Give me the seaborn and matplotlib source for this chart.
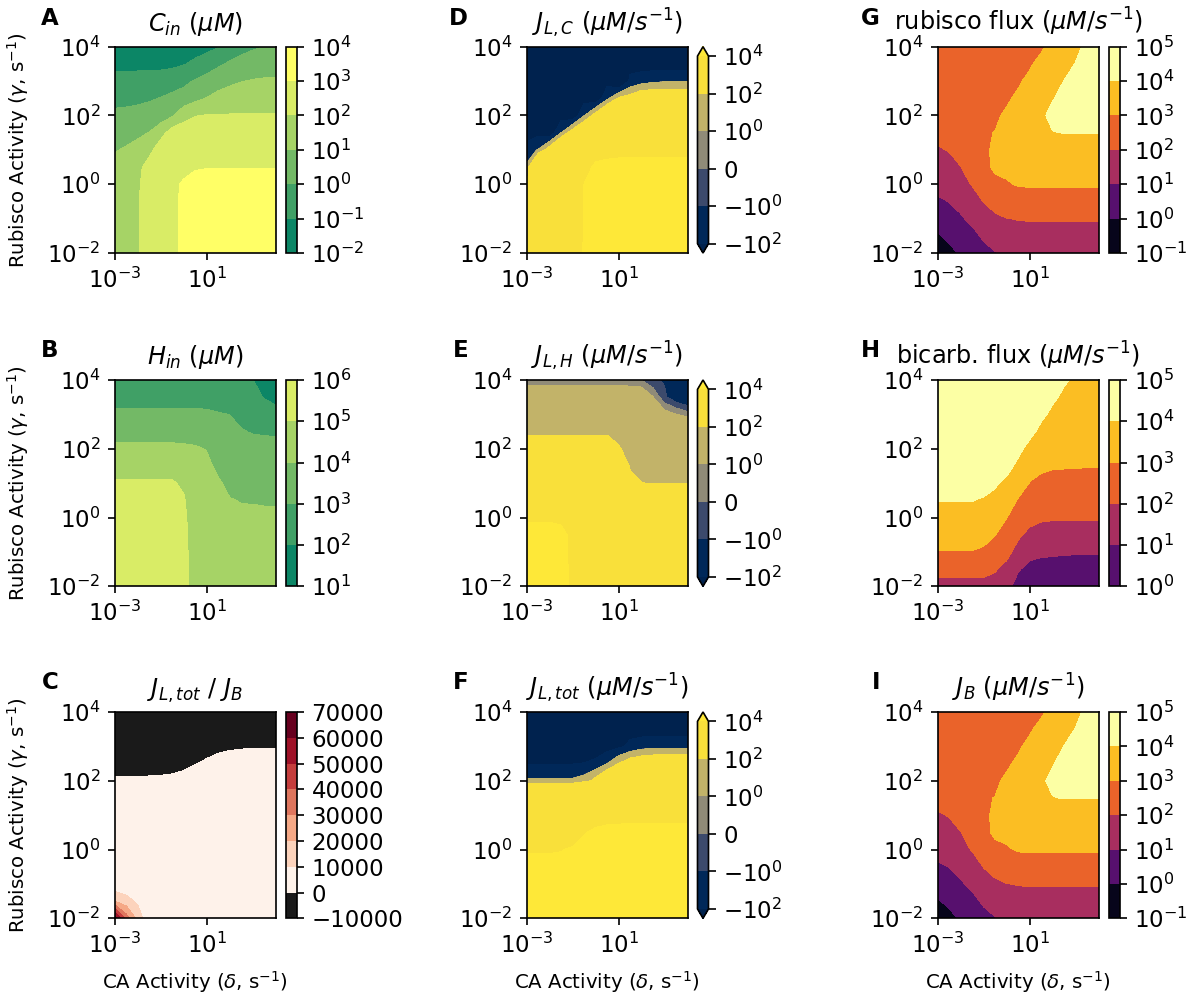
import numpy as np
import matplotlib
matplotlib.use("Agg")
import matplotlib.pyplot as plt
import matplotlib.colors as mcolors
import seaborn as sns

# ---------------- grid (log10 of activities) ----------------
ca_log_activity = [-3.0, -2.5, -2.0, -1.5, -1.0, -0.5, 0.0, 0.5, 1.0, 1.5, 2.0, 2.5, 3.0, 3.5, 4.0]
rubisco_log_activity = [-2.0, -1.5, -1.0, -0.5, 0.0, 0.5, 1.0, 1.5, 2.0, 2.5, 3.0, 3.5, 4.0]

# ---------------- A: log10 C_in, one list per CA column (bottom -> top) ----------------
c_in_log_cols = [
    [1.55, 1.55, 1.52, 1.50, 1.45, 1.30, 0.94, 0.56, 0.18, -0.25, -0.74, -1.22, -1.60],
    [1.75, 1.75, 1.72, 1.70, 1.62, 1.45, 1.10, 0.67, 0.23, -0.24, -0.73, -1.22, -1.60],
    [1.96, 1.96, 1.95, 1.94, 1.90, 1.75, 1.32, 0.82, 0.31, -0.19, -0.70, -1.21, -1.60],
    [2.35, 2.35, 2.36, 2.38, 2.40, 2.42, 1.72, 1.03, 0.45, -0.11, -0.67, -1.20, -1.60],
    [2.65, 2.65, 2.65, 2.65, 2.68, 2.70, 2.60, 1.65, 0.50, 0.04, -0.59, -1.23, -1.60],
    [2.88, 2.88, 2.88, 2.88, 2.88, 2.85, 2.75, 2.47, 0.90, 0.25, -0.46, -1.19, -1.60],
    [3.12, 3.12, 3.12, 3.10, 3.08, 2.83, 2.53, 2.40, 1.75, 0.35, -0.19, -1.05, -1.50],
    [3.35, 3.35, 3.35, 3.32, 3.20, 2.95, 2.63, 2.32, 1.98, 0.76, 0.08, -0.80, -1.40],
    [3.45, 3.45, 3.45, 3.42, 3.30, 2.97, 2.66, 2.35, 2.04, 1.04, 0.34, -0.45, -1.30],
    [3.52, 3.52, 3.52, 3.48, 3.33, 2.97, 2.66, 2.36, 2.05, 1.33, 0.58, -0.14, -1.04],
    [3.55, 3.55, 3.55, 3.50, 3.35, 2.97, 2.66, 2.36, 2.05, 1.47, 0.81, 0.12, -0.56],
    [3.58, 3.58, 3.58, 3.52, 3.36, 2.97, 2.66, 2.36, 2.05, 1.54, 0.97, 0.33, -0.30],
    [3.60, 3.60, 3.60, 3.54, 3.37, 2.97, 2.66, 2.36, 2.05, 1.58, 1.06, 0.48, -0.12],
    [3.62, 3.62, 3.62, 3.55, 3.38, 2.97, 2.66, 2.36, 2.05, 1.59, 1.10, 0.56, 0.02],
    [3.63, 3.63, 3.63, 3.56, 3.38, 2.97, 2.66, 2.36, 2.05, 1.60, 1.11, 0.60, 0.10],
]

# ---------------- B: log10 H_in ----------------
h_in_log_cols = [
    [5.60, 5.60, 5.55, 5.50, 5.40, 5.30, 5.10, 4.65, 4.17, 3.68, 3.17, 2.67, 2.20],
    [5.60, 5.60, 5.55, 5.50, 5.40, 5.30, 5.10, 4.65, 4.17, 3.68, 3.17, 2.67, 2.20],
    [5.60, 5.60, 5.55, 5.50, 5.40, 5.30, 5.10, 4.65, 4.17, 3.68, 3.17, 2.67, 2.20],
    [5.60, 5.60, 5.55, 5.50, 5.40, 5.30, 5.10, 4.65, 4.17, 3.68, 3.17, 2.67, 2.20],
    [5.60, 5.60, 5.55, 5.50, 5.40, 5.30, 5.10, 4.65, 4.17, 3.68, 3.17, 2.67, 2.20],
    [5.50, 5.50, 5.50, 5.45, 5.38, 5.28, 5.08, 4.65, 4.17, 3.68, 3.17, 2.67, 2.20],
    [5.30, 5.30, 5.28, 5.25, 5.18, 5.08, 4.86, 4.50, 4.13, 3.68, 3.17, 2.67, 2.20],
    [4.50, 4.50, 4.50, 4.48, 4.45, 4.40, 4.35, 4.25, 4.08, 3.68, 3.17, 2.67, 2.20],
    [4.40, 4.40, 4.40, 4.38, 4.35, 4.30, 4.25, 4.15, 3.97, 3.55, 3.14, 2.67, 2.20],
    [4.35, 4.35, 4.35, 4.32, 4.28, 4.20, 4.08, 3.85, 3.58, 3.32, 3.06, 2.60, 2.15],
    [4.30, 4.30, 4.28, 4.22, 4.12, 4.03, 3.85, 3.63, 3.42, 3.21, 2.99, 2.50, 2.10],
    [4.25, 4.25, 4.22, 4.15, 4.08, 3.98, 3.75, 3.53, 3.30, 3.05, 2.80, 2.50, 2.15],
    [4.22, 4.22, 4.20, 4.13, 4.07, 3.98, 3.75, 3.52, 3.28, 2.95, 2.62, 2.30, 2.02],
    [4.20, 4.20, 4.18, 4.12, 4.06, 3.97, 3.74, 3.51, 3.27, 2.92, 2.45, 1.95, 1.50],
    [4.20, 4.20, 4.18, 4.12, 4.06, 3.97, 3.74, 3.51, 3.27, 2.88, 2.30, 1.75, 1.30],
]

# ---------------- C: J_L,tot / J_B, one list per Rubisco row (left -> right) ----------------
ratio_rows = [
    [65000, 35000, 16000, 2000, 2000, 2000, 2000, 2000, 2000, 2000, 2000, 2000, 2000, 2000, 2000],
    [20000, 14000, 8000, 2000, 2000, 2000, 2000, 2000, 2000, 2000, 2000, 2000, 2000, 2000, 2000],
    [2000, 2000, 2000, 2000, 2000, 2000, 2000, 2000, 2000, 2000, 2000, 2000, 2000, 2000, 2000],
    [2000, 2000, 2000, 2000, 2000, 2000, 2000, 2000, 2000, 2000, 2000, 2000, 2000, 2000, 2000],
    [2000, 2000, 2000, 2000, 2000, 2000, 2000, 2000, 2000, 2000, 2000, 2000, 2000, 2000, 2000],
    [2000, 2000, 2000, 2000, 2000, 2000, 2000, 2000, 2000, 2000, 2000, 2000, 2000, 2000, 2000],
    [2000, 2000, 2000, 2000, 2000, 2000, 2000, 2000, 2000, 2000, 2000, 2000, 2000, 2000, 2000],
    [2000, 2000, 2000, 2000, 2000, 2000, 2000, 2000, 2000, 2000, 2000, 2000, 2000, 2000, 2000],
    [960, 960, 1040, 1120, 1280, 1600, 2400, 3760, 2000, 2000, 2000, 2000, 2000, 2000, 2000],
    [-3040, -3040, -2960, -2880, -2720, -2400, -1600, -240, 1200, 2400, 3040, 3360, 3520, 3520, 3520],
    [-3000, -3000, -3000, -3000, -3000, -3000, -3000, -3000, -2800, -1600, -960, -640, -480, -480, -480],
    [-3000, -3000, -3000, -3000, -3000, -3000, -3000, -3000, -3000, -3000, -3000, -3000, -3000, -3000, -3000],
    [-3000, -3000, -3000, -3000, -3000, -3000, -3000, -3000, -3000, -3000, -3000, -3000, -3000, -3000, -3000],
]

# ---------------- D: J_L,C (uM/s) per CA column ----------------
j_lc_cols = [
    [3000, 1500, 600, 120, 40, 10, -35, -170, -400, -800, -1500, -2500, -4000],
    [5000, 4000, 3000, 2000, 1200, 500, 5, -126, -350, -700, -1400, -2500, -4000],
    [8000, 7000, 5500, 4000, 2500, 1100, 170, -170, -600, -1200, -2000, -3000, -4500],
    [8600, 7800, 6500, 5000, 3200, 1600, 385, -1, -142, -500, -1200, -2500, -4000],
    [9000, 8300, 7000, 5500, 3800, 2000, 800, 171, -185, -600, -1300, -2500, -4000],
    [10150, 10150, 10150, 10150, 10100, 7000, 3500, 306, -6, -140, -600, -1500, -3000],
    [14000, 14000, 14000, 13500, 13000, 11500, 6500, 2500, 153, -180, -600, -1500, -3000],
    [16000, 16000, 15500, 15000, 14000, 12500, 7000, 3000, 329, -28, -131, -600, -1500],
    [17000, 17000, 16500, 16000, 15000, 13000, 7300, 3500, 1500, 114, -242, -800, -1500],
    [18000, 18000, 17500, 17000, 16000, 13500, 7300, 3600, 1600, 150, -80, -130, -600],
    [18500, 18500, 18000, 17500, 16500, 13500, 7300, 3700, 1700, 221, -42, -149, -600],
    [19000, 19000, 18500, 18000, 17000, 13500, 7300, 3700, 1700, 219, -19, -154, -600],
    [19000, 19000, 18500, 18000, 17000, 13500, 7300, 3700, 1700, 218, -9, -161, -600],
    [19000, 19000, 18500, 18000, 17000, 13500, 7300, 3700, 1700, 218, -9, -161, -600],
    [19000, 19000, 18500, 18000, 17000, 13500, 7300, 3700, 1700, 218, -9, -161, -600],
]

# ---------------- E: J_L,H (uM/s) per CA column ----------------
j_lh_cols = [
    [15000, 15000, 15000, 15000, 8200, 4000, 2000, 1000, 300, 50, 15, 3, 0.15],
    [15000, 15000, 15000, 15000, 8200, 4000, 2000, 1000, 300, 50, 15, 3, 0.15],
    [15000, 15000, 15000, 15000, 8200, 4000, 2000, 1000, 300, 50, 15, 3, 0.15],
    [13000, 13000, 13000, 12500, 8000, 4000, 2000, 1000, 300, 50, 15, 3, 0.15],
    [8000, 8000, 7900, 7600, 6500, 4000, 2000, 1000, 300, 50, 15, 3, 0.15],
    [6000, 6000, 5900, 5700, 5200, 3800, 2000, 1000, 300, 50, 15, 3, 0.15],
    [6000, 6000, 5900, 5700, 5200, 3800, 2000, 1000, 300, 50, 15, 3, 0.15],
    [6000, 6000, 5900, 5700, 5200, 3800, 2000, 1000, 300, 50, 15, 3, 0.15],
    [6000, 6000, 5900, 5700, 5200, 3800, 2000, 800, 119, 40, 12, 3, 0.15],
    [5200, 5200, 5000, 4500, 3000, 1500, 258, 50, 30, 15, 7, 2.5, 0.15],
    [5000, 5000, 4900, 4300, 2800, 1200, 103, 40, 25, 12, 6, 2.5, -0.05],
    [4900, 4900, 4700, 4000, 2500, 345, 95, 35, 18, 9, 4, 1.05, -0.85],
    [4900, 4900, 4700, 4000, 2500, 345, 95, 30, 14, 6, 1.6, -0.8, -1.1],
    [4900, 4900, 4700, 4000, 2500, 345, 95, 30, 14, 4, 1.05, -1.8, -3.0],
    [4900, 4900, 4700, 4000, 2500, 345, 95, 30, 12, 4, 0.51, -2.5, -10.0],
]

# ---------------- F: J_L,tot (uM/s) per CA column ----------------
j_ltot_cols = [
    [20000, 18000, 15000, 12000, 9400, 6000, 3000, 600, 18, -105, -500, -1500, -3000],
    [20000, 18000, 15000, 12000, 9400, 6000, 3000, 600, 18, -105, -500, -1500, -3000],
    [20000, 18000, 15000, 12000, 9400, 6000, 3000, 600, 18, -105, -500, -1500, -3000],
    [20000, 18000, 15000, 12000, 9700, 6000, 3000, 600, 18, -105, -500, -1500, -3000],
    [20000, 18000, 15500, 13000, 10800, 6300, 3000, 600, 18, -105, -500, -1500, -3000],
    [21000, 19500, 17500, 15500, 14000, 9240, 4000, 1000, 42, -82, -530, -1500, -3000],
    [22000, 20500, 18500, 16500, 15000, 12000, 4860, 1200, 140, -70, -170, -800, -2000],
    [23000, 21500, 19500, 17500, 16000, 13000, 6180, 2500, 278, -0.5, -143, -800, -2000],
    [23500, 22000, 20000, 18000, 16500, 13500, 6210, 2800, 1100, 101, -120, -600, -1800],
    [24000, 22500, 20500, 18500, 17000, 13800, 6300, 2900, 1200, 184, -79, -132, -800],
    [24000, 22500, 20500, 18500, 17000, 13800, 6300, 2900, 1200, 210, -40, -151, -800],
    [24500, 23000, 21000, 19000, 17200, 13800, 6300, 2900, 1200, 231, -31, -146, -800],
    [24500, 23000, 21000, 19000, 17200, 13800, 6300, 2900, 1200, 231, -31, -146, -800],
    [24500, 23000, 21000, 19000, 17200, 13800, 6300, 2900, 1200, 231, -31, -146, -800],
    [24500, 23000, 21000, 19000, 17200, 13800, 6300, 2900, 1200, 231, -31, -146, -800],
]

# ---------------- G / I: log10 rubisco flux, one list per Rubisco row ----------------
rubisco_flux_log_rows = [
    [-0.50, -0.35, 0.15, 0.40, 0.70, 0.96, 1.10, 1.30, 1.40, 1.45, 1.50, 1.50, 1.50, 1.50, 1.50],
    [-0.10, 0.28, 0.50, 0.75, 1.15, 1.40, 1.55, 1.82, 1.74, 1.74, 1.74, 1.74, 1.74, 1.74, 1.74],
    [0.40, 0.70, 0.90, 1.20, 1.58, 1.85, 1.99, 2.02, 2.05, 2.05, 2.05, 2.05, 2.05, 2.05, 2.05],
    [0.87, 1.02, 1.25, 1.60, 2.03, 2.30, 2.40, 2.45, 2.54, 2.54, 2.54, 2.54, 2.54, 2.54, 2.54],
    [1.30, 1.40, 1.75, 2.05, 2.45, 2.75, 2.90, 3.085, 3.10, 3.10, 3.10, 3.10, 3.10, 3.10, 3.10],
    [1.60, 1.70, 1.98, 2.45, 2.75, 3.17, 3.25, 3.30, 3.30, 3.30, 3.30, 3.30, 3.30, 3.30, 3.30],
    [1.90, 2.05, 2.35, 2.70, 2.90, 3.09, 3.20, 3.25, 3.27, 3.28, 3.28, 3.28, 3.28, 3.28, 3.28],
    [2.30, 2.40, 2.60, 2.80, 2.92, 3.02, 3.20, 3.40, 3.60, 3.80, 3.97, 4.03, 4.03, 4.03, 4.03],
    [2.45, 2.55, 2.65, 2.75, 2.85, 2.85, 3.16, 3.40, 3.60, 3.85, 4.22, 4.35, 4.45, 4.50, 4.55],
    [2.50, 2.60, 2.70, 2.75, 2.80, 2.85, 2.85, 3.19, 3.45, 3.70, 3.95, 4.26, 4.40, 4.50, 4.55],
    [2.55, 2.62, 2.70, 2.75, 2.80, 2.80, 2.85, 2.85, 3.27, 3.55, 3.80, 4.01, 4.25, 4.40, 4.50],
    [2.60, 2.65, 2.70, 2.75, 2.78, 2.80, 2.80, 2.82, 2.85, 3.35, 3.60, 3.80, 4.02, 4.25, 4.45],
    [2.62, 2.66, 2.70, 2.75, 2.76, 2.78, 2.78, 2.78, 2.78, 2.80, 3.39, 3.60, 3.85, 4.13, 4.40],
]
# J_B equals the rubisco flux at steady state (panel I reads the same as panel G)
j_b_log_rows = rubisco_flux_log_rows

# ---------------- H: log10 bicarbonate flux per CA column ----------------
bicarb_flux_log_cols = [
    [1.70, 2.28, 2.96, 3.50, 3.75, 4.02, 4.30, 4.50, 4.60, 4.70, 4.75, 4.80, 4.85],
    [1.70, 2.28, 2.96, 3.50, 3.75, 4.02, 4.30, 4.50, 4.60, 4.70, 4.75, 4.80, 4.85],
    [1.70, 2.28, 2.96, 3.50, 3.75, 4.02, 4.30, 4.50, 4.60, 4.70, 4.75, 4.80, 4.85],
    [1.70, 2.28, 2.96, 3.50, 3.75, 4.02, 4.30, 4.50, 4.60, 4.70, 4.75, 4.80, 4.85],
    [1.70, 2.28, 2.90, 3.21, 3.60, 3.92, 4.32, 4.50, 4.60, 4.70, 4.75, 4.80, 4.85],
    [1.55, 2.11, 2.50, 3.02, 3.35, 3.70, 4.15, 4.40, 4.55, 4.65, 4.70, 4.75, 4.80],
    [1.15, 1.60, 2.40, 2.70, 3.02, 3.35, 3.70, 4.45, 4.55, 4.65, 4.70, 4.75, 4.80],
    [0.81, 1.05, 1.50, 2.24, 2.60, 2.95, 3.37, 3.70, 4.35, 4.50, 4.60, 4.70, 4.75],
    [0.60, 0.85, 1.16, 1.65, 2.45, 2.70, 2.98, 3.23, 3.60, 4.37, 4.50, 4.60, 4.70],
    [0.50, 0.80, 1.10, 1.50, 2.18, 2.50, 2.80, 3.16, 3.40, 3.70, 4.26, 4.45, 4.60],
    [0.45, 0.75, 1.09, 1.45, 2.12, 2.45, 2.75, 3.07, 3.30, 3.50, 3.75, 4.20, 4.40],
    [0.42, 0.72, 1.07, 1.43, 2.10, 2.42, 2.72, 3.06, 3.25, 3.45, 3.62, 3.80, 4.13],
    [0.40, 0.70, 1.06, 1.42, 2.10, 2.42, 2.72, 3.05, 3.22, 3.40, 3.55, 3.70, 3.85],
    [0.40, 0.70, 1.06, 1.42, 2.10, 2.41, 2.70, 3.03, 3.20, 3.35, 3.50, 3.62, 3.75],
    [0.40, 0.70, 1.06, 1.42, 2.10, 2.40, 2.70, 3.02, 3.18, 3.30, 3.42, 3.55, 3.65],
]

# ---------------- levels ----------------
c_in_levels = [-2, -1, 0, 1, 2, 3, 4]
h_in_levels = [1, 2, 3, 4, 5, 6]
ratio_levels = [-10000, 0, 10000, 20000, 30000, 40000, 50000, 60000, 70000]
flux_levels = [-100, -1, 0, 1, 100, 10000]
flux_tick_labels = ["$\\mathdefault{-10^{2}}$", "$\\mathdefault{-10^{0}}$", "$\\mathdefault{0}$",
                    "$\\mathdefault{10^{0}}$", "$\\mathdefault{10^{2}}$", "$\\mathdefault{10^{4}}$"]
rubisco_levels = [-1, 0, 1, 2, 3, 4, 5]
bicarb_levels = [0, 1, 2, 3, 4, 5]
x_ticks = [-3, 1]
y_ticks = [-2, 0, 2, 4]

# ---------------- style ----------------
sns.set_style("ticks", rc={
    "axes.edgecolor": "black", "axes.linewidth": 0.8,
    "xtick.color": "black", "ytick.color": "black",
    "xtick.major.size": 3.5, "ytick.major.size": 3.5,
    "xtick.major.width": 0.8, "ytick.major.width": 0.8,
    "text.color": "black", "axes.labelcolor": "black",
})
plt.rcParams["font.family"] = ["DejaVu Sans"]
plt.rcParams["mathtext.fontset"] = "dejavusans"

W, H, DPI = 1204, 998, 150
fig = plt.figure(figsize=(W / DPI, H / DPI), dpi=DPI)


def px_axes(left, top, width, height):
    return fig.add_axes([left / W, 1 - (top + height) / H, width / W, height / H])


def pow_label(k):
    return "$\\mathdefault{10^{%d}}$" % k


col_left = [115.0, 526.7, 937.7]
row_top = [46.7, 380.0, 712.0]
AX_W, AX_H = 160.8, 206.3
CB_GAP, CB_W = 10.0, 11.0
letter_right = [58.3, 468.3, 880.0]
letter_base = [25.0, 357.0, 689.0]

summer = sns.color_palette("summer", as_cmap=True)
inferno = sns.color_palette("inferno", as_cmap=True)
cividis = sns.color_palette("cividis", as_cmap=True)
rdgy = sns.color_palette("RdGy_r", as_cmap=True)


def symlog():
    return mcolors.SymLogNorm(linthresh=0.1, linscale=1, vmin=-100, vmax=10000, base=10)


panels = [
    # (row, col, letter, title, Z, levels, cmap, norm, extend, cbar labels)
    (0, 0, "A", "$C_{in}$ ($\\mu M$)", np.array(c_in_log_cols).T, c_in_levels, summer,
     mcolors.Normalize(-1.75, 3.25), "neither", [pow_label(k) for k in c_in_levels]),
    (1, 0, "B", "$H_{in}$ ($\\mu M$)", np.array(h_in_log_cols).T, h_in_levels, summer,
     mcolors.Normalize(1.25, 6.25), "neither", [pow_label(k) for k in h_in_levels]),
    (2, 0, "C", "$J_{L,tot}$ / $J_B$", np.array(ratio_rows, dtype=float), ratio_levels, rdgy,
     mcolors.TwoSlopeNorm(vcenter=0, vmin=-5000, vmax=65000), "neither", None),
    (0, 1, "D", "$J_{L,C}$ ($\\mu M/s^{-1}$)", np.array(j_lc_cols, dtype=float).T, flux_levels, cividis,
     symlog(), "both", flux_tick_labels),
    (1, 1, "E", "$J_{L,H}$ ($\\mu M/s^{-1}$)", np.array(j_lh_cols, dtype=float).T, flux_levels, cividis,
     symlog(), "both", flux_tick_labels),
    (2, 1, "F", "$J_{L,tot}$ ($\\mu M/s^{-1}$)", np.array(j_ltot_cols, dtype=float).T, flux_levels, cividis,
     symlog(), "both", flux_tick_labels),
    (0, 2, "G", "rubisco flux ($\\mu M/s^{-1}$)", np.array(rubisco_flux_log_rows), rubisco_levels, inferno,
     mcolors.Normalize(-0.75, 4.25), "neither", [pow_label(k) for k in rubisco_levels]),
    (1, 2, "H", "bicarb. flux ($\\mu M/s^{-1}$)", np.array(bicarb_flux_log_cols).T, bicarb_levels, inferno,
     mcolors.Normalize(-0.75, 4.25), "neither", [pow_label(k) for k in bicarb_levels]),
    (2, 2, "I", "$J_B$ ($\\mu M/s^{-1}$)", np.array(j_b_log_rows), rubisco_levels, inferno,
     mcolors.Normalize(-0.75, 4.25), "neither", [pow_label(k) for k in rubisco_levels]),
]

for r, c, letter, title, Z, levels, cmap, norm, extend, cb_labels in panels:
    ax = px_axes(col_left[c], row_top[r], AX_W, AX_H)
    cs = ax.contourf(ca_log_activity, rubisco_log_activity, Z, levels=levels,
                     cmap=cmap, norm=norm, extend=extend)
    ax.set_xlim(-3, 4)
    ax.set_ylim(-2, 4)
    ax.set_xticks(x_ticks, labels=[pow_label(k) for k in x_ticks])
    ax.set_yticks(y_ticks, labels=[pow_label(k) for k in y_ticks])
    ax.tick_params(labelsize=11)
    ax.set_title(title, fontsize=11.5, pad=7.5)
    for s in ax.spines.values():
        s.set_visible(True)
    if c == 0:
        ax.set_ylabel("Rubisco Activity ($\\gamma$, s$^{-1}$)", fontsize=9.5)
        ax.yaxis.set_label_coords(-0.525, 0.5)
    if r == 2:
        ax.set_xlabel("CA Activity ($\\delta$, s$^{-1}$)", fontsize=9.5)
        ax.xaxis.set_label_coords(0.5, -0.245)

    cax = px_axes(col_left[c] + AX_W + CB_GAP, row_top[r], CB_W, AX_H)
    cb = fig.colorbar(cs, cax=cax)
    if cb_labels is not None:
        cb.set_ticks(levels, labels=cb_labels)
    else:
        cb.set_ticks(levels)
    cb.ax.minorticks_off()
    cb.ax.tick_params(labelsize=11)

    fig.text(letter_right[c] / W, 1 - letter_base[r] / H, letter, ha="right", va="baseline",
             fontsize=11, fontweight="bold")

fig.savefig("out.png", dpi=DPI)
